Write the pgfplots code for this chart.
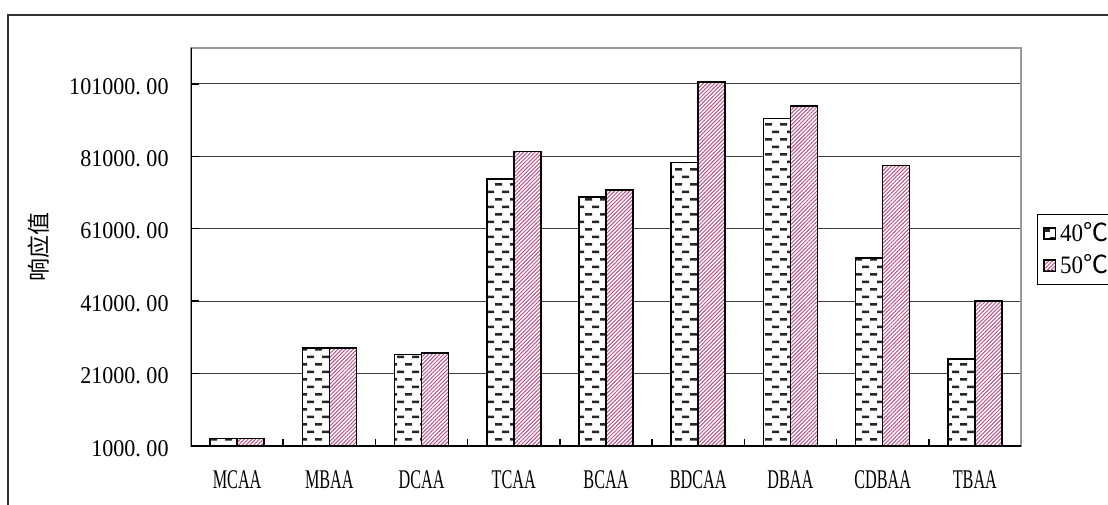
\documentclass[border=0pt]{standalone}
\usepackage{graphicx}
\usepackage{fontspec}
\setmainfont{Liberation Serif}
\newfontfamily\cjk{Noto Sans CJK SC}
\usepackage{pgfplots}
\pgfplotsset{compat=1.18}
\usetikzlibrary{patterns.meta}

\definecolor{hatch}{RGB}{185,80,135}

% staggered horizontal dashes for the 40 degree series
\pgfdeclarepattern{
  name=hdash,
  type=uncolored,
  bottom left={\pgfpoint{0pt}{0pt}},
  top right={\pgfpoint{7.5pt}{7.7pt}},
  tile size={\pgfpoint{7.5pt}{7.7pt}},
  code={
    \pgfsetlinewidth{1.3pt}
    \pgfpathmoveto{\pgfpoint{0.1pt}{1.9pt}}
    \pgfpathlineto{\pgfpoint{3.8pt}{1.9pt}}
    \pgfpathmoveto{\pgfpoint{3.85pt}{5.75pt}}
    \pgfpathlineto{\pgfpoint{7.55pt}{5.75pt}}
    \pgfusepath{stroke}
  }
}

\newcommand\ylab[1]{\scalebox{0.92}[1]{#1\makebox[0.5em][l]{.}00}}
\newcommand\xlab[1]{\scalebox{0.6}[1]{#1}}
\newcommand\lab{\fontsize{12pt}{14pt}\selectfont}
\newcommand\xfont{\fontsize{13.5pt}{15pt}\selectfont}

\pgfplotstableread{
idx t40    t50
0   3100   3100
1   28000  28000
2   26300  26700
3   74700  82300
4   69700  71700
5   79300  101500
6   91400  94900
7   52900  78400
8   25000  41000
}\resp

\begin{document}
\begin{tikzpicture}
\draw[line width=1pt, black!80] (4pt,-20pt) rectangle (640pt,244.5pt);
\begin{axis}[
  at={(95.5pt,29pt)}, anchor=south west,
  scale only axis, width=415pt, height=199.15pt,
  xmin=-0.5, xmax=8.5, ymin=1000, ymax=111000,
  scaled y ticks=false,
  ybar=0pt, bar width=13.5pt,
  xtick={0,...,8},
  xticklabels={\xlab{MCAA},\xlab{MBAA},\xlab{DCAA},\xlab{TCAA},\xlab{BCAA},\xlab{BDCAA},\xlab{DBAA},\xlab{CDBAA},\xlab{TBAA}},
  minor xtick={0.5,1.5,...,7.5},
  ytick={1000,21000,41000,61000,81000,101000},
  yticklabels={\ylab{1000},\ylab{21000},\ylab{41000},\ylab{61000},\ylab{81000},\ylab{101000}},
  xtick pos=lower, ytick pos=left, tick align=inside,
  major x tick style={draw=none},
  minor x tick style={black, line width=0.75pt},
  major y tick style={black, line width=0.75pt},
  major tick length=4pt, minor tick length=3.5pt,
  ymajorgrids, major y grid style={black!75, line width=0.5pt},
  axis line style={draw=black!40, line width=1pt},
  xticklabel style={font=\xfont, anchor=center, yshift=-17pt},
  yticklabel style={font=\lab, anchor=east, inner sep=0pt, xshift=-11pt, yshift=-1.2pt},
  ylabel={\cjk 响应值},
  ylabel style={font=\fontsize{11.5pt}{13pt}\selectfont, at={(axis description cs:-0.1831,0.5)}, anchor=center},
  legend style={at={(1.0193,0.583)}, anchor=north west, draw=black, line width=0.6pt,
    fill=white, font=\fontsize{12.5pt}{14pt}\selectfont, inner xsep=3pt, inner ysep=2pt, row sep=1pt},
  legend cell align=left,
  legend image code/.code={\draw[#1, line width=0.6pt] (0pt,-2.8pt) rectangle (5.6pt,2.8pt);},
]
\addplot[draw=black, line width=0.75pt, preaction={fill=white},
  pattern=hdash, pattern color=black!85] table[x=idx, y=t40] {\resp};
\addplot[draw=black, line width=0.75pt, preaction={fill=white},
  pattern={Lines[angle=45, distance=1.35pt, line width=0.5pt]}, pattern color=hatch]
  table[x=idx, y=t50] {\resp};
\legend{\scalebox{0.92}[1]{40}{\cjk ℃}, \scalebox{0.92}[1]{50}{\cjk ℃}}
\draw[black, line width=0.75pt] (rel axis cs:0,1) -- (rel axis cs:0,0) -- (rel axis cs:1,0);
\end{axis}
\pgfresetboundingbox
\useasboundingbox (0,0) rectangle (554pt,252pt);
\end{tikzpicture}
\end{document}
